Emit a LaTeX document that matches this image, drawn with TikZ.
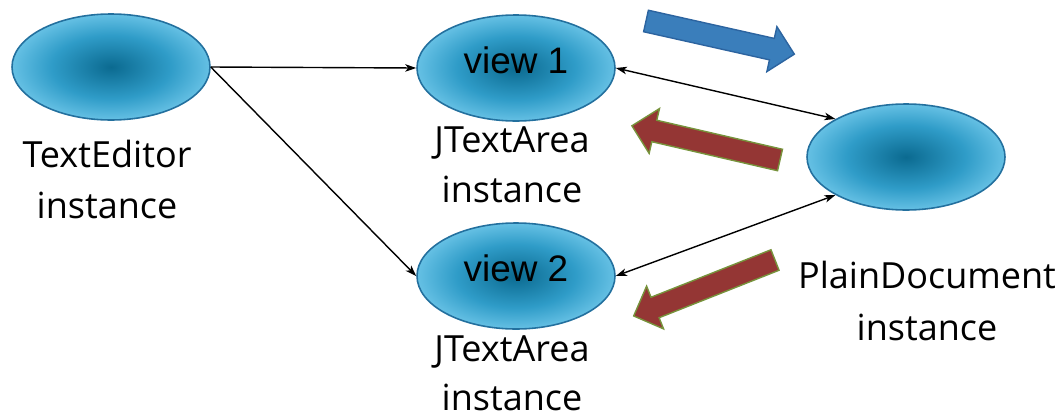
\documentclass[tikz,border=0pt]{standalone}
\usepackage{fontspec}
\setmainfont{Open Sans}
\newfontfamily\viewfont{Liberation Sans}
\usetikzlibrary{arrows.meta,shapes.geometric}

\definecolor{ellcore}{HTML}{0B6A90}
\definecolor{ellmid}{HTML}{2F9CC8}
\definecolor{elledge}{HTML}{8CDAF8}
\definecolor{ellline}{HTML}{23709E}
\definecolor{bluefill}{HTML}{3A7EBB}
\definecolor{blueline}{HTML}{2C64A0}
\definecolor{redfill}{HTML}{943634}
\definecolor{redline}{HTML}{77933C}

% the shading square is stretched past the ellipse corners,
% so the rim of the ellipse sits at about 35bp
\pgfdeclareradialshading{objglow}{\pgfpoint{0bp}{0bp}}{%
  color(0bp)=(ellcore); color(15bp)=(ellmid); color(27bp)=(elledge!70!ellmid); color(35bp)=(elledge); color(50bp)=(elledge)}

\tikzset{
  obj/.style={ellipse, minimum width=198*0.02cm, minimum height=106*0.02cm,
    draw=ellline, line width=0.9pt, shading=objglow, inner sep=0pt},
  caption/.style={anchor=base, font=\fontsize{20.5}{24}\selectfont, inner sep=0pt},
  viewlabel/.style={anchor=base, font=\viewfont\fontsize{21}{24}\selectfont, inner sep=0pt},
  link/.style={draw=black, line width=0.8pt, -{Stealth[length=0.22cm, width=0.15cm, inset=0.06cm]}},
  twoway/.style={link, {Stealth[length=0.22cm, width=0.15cm, inset=0.06cm]}-{Stealth[length=0.22cm, width=0.15cm, inset=0.06cm]}},
  fat arrow/.pic={
    \path[pic actions] (0,-11) -- (129,-11) -- (129,-23) -- (152,0)
      -- (129,23) -- (129,11) -- (0,11) -- cycle;}
}

\begin{document}
\begin{tikzpicture}[x=0.02cm, y=-0.02cm]
  \useasboundingbox (0,0) rectangle (1057,416);

  % objects
  \node[obj] (editor) at (111,67) {};
  \node[obj] (view1)  at (516,68) {};
  \node[obj] (view2)  at (516,276) {};
  \node[obj] (doc)    at (906,157) {};

  \node[viewlabel] (v1text) at (516,73) {view 1};
  \node[viewlabel] (v2text) at (516,281) {view 2};

  % captions
  \node[caption] (edname)  at (107,167) {TextEditor};
  \node[caption] (edinst)  at (107,218) {instance};
  \node[caption] (v1name)  at (512,152) {JTextArea};
  \node[caption] (v1inst)  at (512,202) {instance};
  \node[caption] (v2name)  at (512,361) {JTextArea};
  \node[caption] (v2inst)  at (512,410) {instance};
  \node[caption] (docname) at (927,288) {PlainDocument};
  \node[caption] (docinst) at (927,340) {instance};

  % references between objects
  \draw[link] (editor.east) -- (view1.west);
  \draw[link] (editor.east) -- (view2.west);
  \draw[twoway] (view1.east) -- (doc.north west);
  \draw[twoway] (view2.east) -- (doc.south west);

  % event flow arrows
  \pic[fill=bluefill, draw=blueline, line width=0.8pt, rotate=-12.6] (push) at (646,21) {fat arrow};
  \pic[fill=redfill, draw=redline, line width=0.8pt, rotate=167] (notify1) at (780,160) {fat arrow};
  \pic[fill=redfill, draw=redline, line width=0.8pt, rotate=201.6] (notify2) at (775,260) {fat arrow};
\end{tikzpicture}
\end{document}
